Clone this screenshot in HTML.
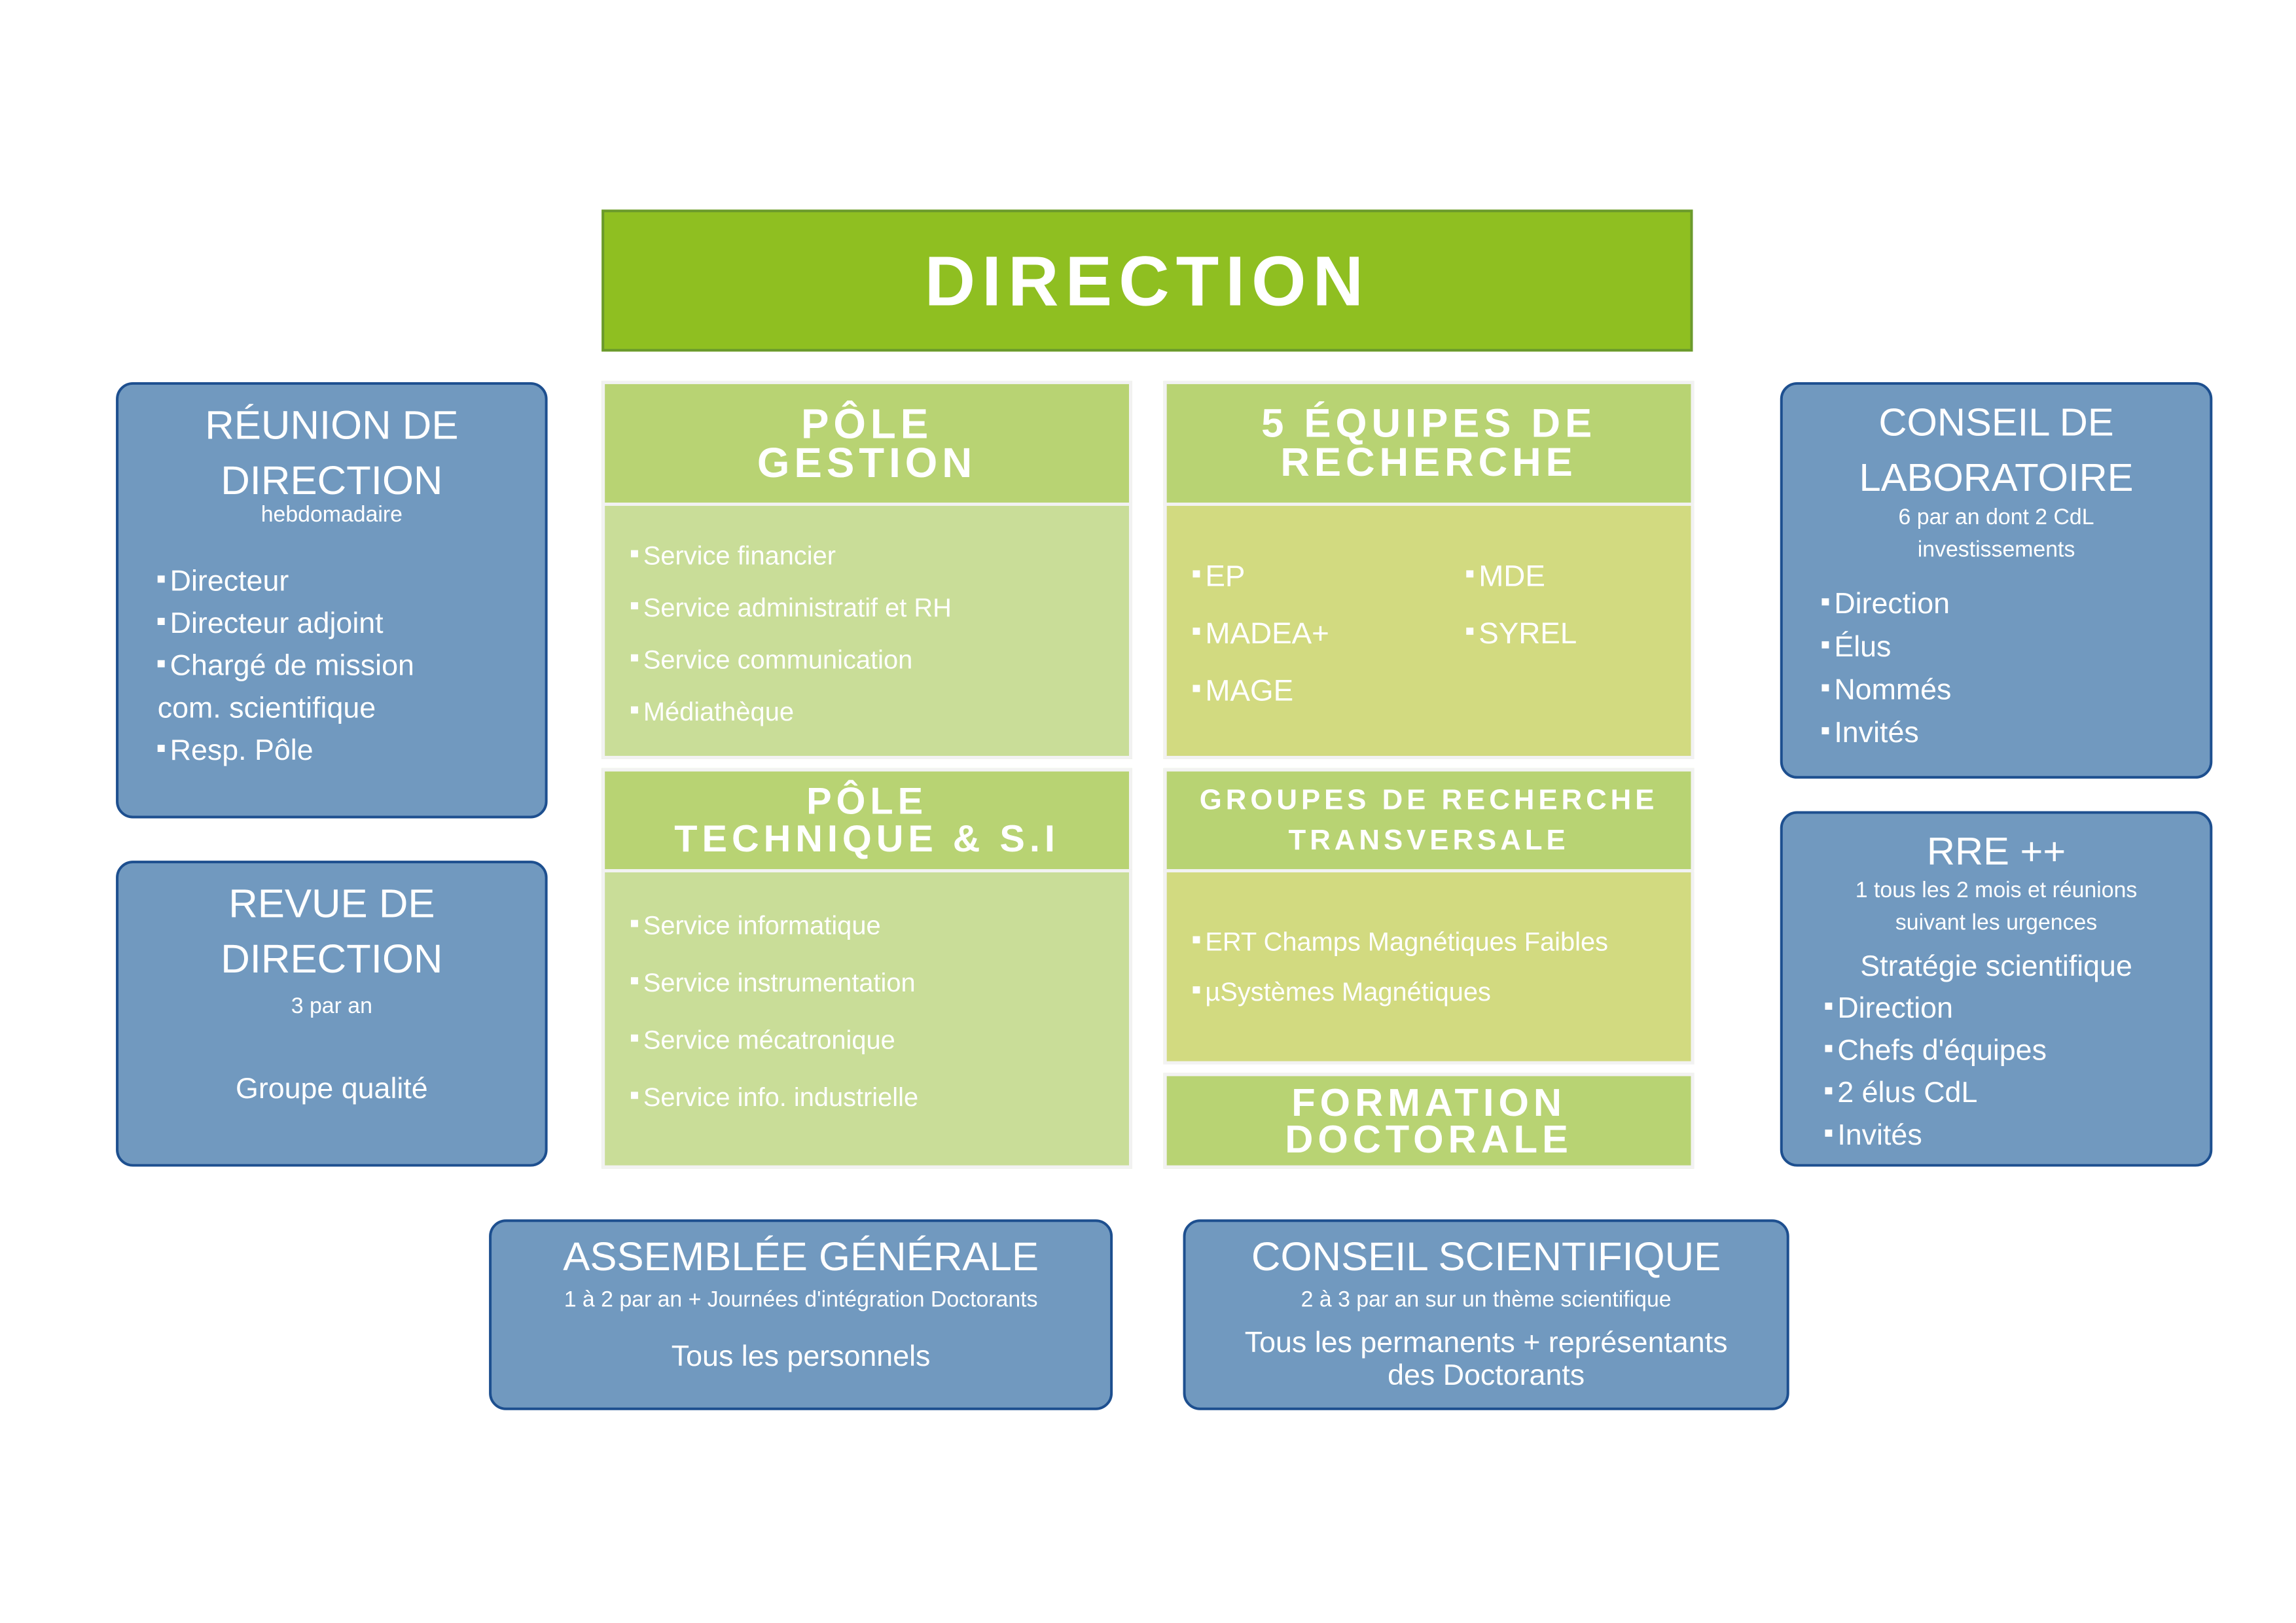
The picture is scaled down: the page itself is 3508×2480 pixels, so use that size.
<!DOCTYPE html>
<html><head><meta charset="utf-8"><style>
*{margin:0;padding:0;box-sizing:border-box}
body{width:3508px;height:2480px;background:#fff;position:relative;overflow:hidden;font-family:"Liberation Sans",sans-serif;color:#fff}
#w{position:absolute;left:0;top:0;width:3508px;height:2480px;transform:scale(0.9948);transform-origin:0 0}
.a{position:absolute}
.blue{background:#7199bf;border:4px solid #1d4f8f;border-radius:26px}
.hd{background:#b8d373;border:5px solid #f2f2f2;display:flex;flex-direction:column;justify-content:center;align-items:center;text-align:center;font-weight:bold;letter-spacing:7px}
.bg{background:#c9dd98;border:5px solid #f2f2f2}
.by{background:#d2da80;border:5px solid #f2f2f2}
.c{text-align:center}
.li{position:absolute;white-space:nowrap}
.li:before{content:"";display:inline-block;width:11px;height:11px;background:#fff;margin-right:8px;vertical-align:middle;position:relative;top:-6px}
</style></head><body><div id="w">

<div class="a" style="left:924px;top:322px;width:1676px;height:218px;background:#8fbf21;border:4px solid #6b9a2c;display:flex;align-items:center;justify-content:center;font-weight:bold;font-size:108px;letter-spacing:10px">DIRECTION</div>

<div class="a blue" style="left:178px;top:587px;width:663px;height:670px">
 <div class="a c" style="left:0;width:100%;top:20px;font-size:62px;line-height:85px">RÉUNION DE<br>DIRECTION</div>
 <div class="a c" style="left:0;width:100%;top:180px;font-size:34px">hebdomadaire</div>
 <div class="li" style="left:60px;top:275px;font-size:45px">Directeur</div>
 <div class="li" style="left:60px;top:340px;font-size:45px">Directeur adjoint</div>
 <div class="li" style="left:60px;top:405px;font-size:45px">Chargé de mission</div>
 <div class="a" style="left:60px;top:470px;font-size:45px">com. scientifique</div>
 <div class="li" style="left:60px;top:535px;font-size:45px">Resp. Pôle</div>
</div>

<div class="a blue" style="left:178px;top:1322px;width:663px;height:470px">
 <div class="a c" style="left:0;width:100%;top:20px;font-size:62px;line-height:85px">REVUE DE<br>DIRECTION</div>
 <div class="a c" style="left:0;width:100%;top:200px;font-size:34px">3 par an</div>
 <div class="a c" style="left:0;width:100%;top:320px;font-size:45px">Groupe qualité</div>
</div>

<div class="a hd" style="left:924px;top:585px;width:815px;height:192px;font-size:64px;line-height:60px">PÔLE<br>GESTION</div>
<div class="a bg" style="left:924px;top:772px;width:815px;height:394px">
 <div class="li" style="left:40px;top:55px;font-size:40px">Service financier</div>
 <div class="li" style="left:40px;top:135px;font-size:40px">Service administratif et RH</div>
 <div class="li" style="left:40px;top:215px;font-size:40px">Service communication</div>
 <div class="li" style="left:40px;top:295px;font-size:40px">Médiathèque</div>
</div>

<div class="a hd" style="left:924px;top:1180px;width:815px;height:160px;font-size:58px;line-height:58px">PÔLE<br>TECHNIQUE &amp; S.I</div>
<div class="a bg" style="left:924px;top:1335px;width:815px;height:460px">
 <div class="li" style="left:40px;top:60px;font-size:40px">Service informatique</div>
 <div class="li" style="left:40px;top:148px;font-size:40px">Service instrumentation</div>
 <div class="li" style="left:40px;top:236px;font-size:40px">Service mécatronique</div>
 <div class="li" style="left:40px;top:324px;font-size:40px">Service info. industrielle</div>
</div>

<div class="a hd" style="left:1787px;top:585px;width:815px;height:192px;font-size:62px;line-height:60px">5 ÉQUIPES DE<br>RECHERCHE</div>
<div class="a by" style="left:1787px;top:772px;width:815px;height:394px">
 <div class="li" style="left:40px;top:80px;font-size:46px">EP</div>
 <div class="li" style="left:40px;top:168px;font-size:46px">MADEA+</div>
 <div class="li" style="left:40px;top:256px;font-size:46px">MAGE</div>
 <div class="li" style="left:460px;top:80px;font-size:46px">MDE</div>
 <div class="li" style="left:460px;top:168px;font-size:46px">SYREL</div>
</div>

<div class="a hd" style="left:1787px;top:1180px;width:815px;height:160px;font-size:44px;line-height:62px;letter-spacing:6px">GROUPES DE RECHERCHE<br>TRANSVERSALE</div>
<div class="a by" style="left:1787px;top:1335px;width:815px;height:300px">
 <div class="li" style="left:40px;top:85px;font-size:40px">ERT Champs Magnétiques Faibles</div>
 <div class="li" style="left:40px;top:162px;font-size:40px">µSystèmes Magnétiques</div>
</div>

<div class="a hd" style="left:1787px;top:1648px;width:815px;height:147px;font-size:60px;line-height:56px">FORMATION<br>DOCTORALE</div>

<div class="a blue" style="left:2734px;top:587px;width:664px;height:609px">
 <div class="a c" style="left:0;width:100%;top:15px;font-size:60px;line-height:85px">CONSEIL DE<br>LABORATOIRE</div>
 <div class="a c" style="left:0;width:100%;top:178px;font-size:34px;line-height:50px">6 par an dont 2 CdL<br>investissements</div>
 <div class="li" style="left:60px;top:310px;font-size:45px">Direction</div>
 <div class="li" style="left:60px;top:376px;font-size:45px">Élus</div>
 <div class="li" style="left:60px;top:442px;font-size:45px">Nommés</div>
 <div class="li" style="left:60px;top:508px;font-size:45px">Invités</div>
</div>

<div class="a blue" style="left:2734px;top:1246px;width:664px;height:546px">
 <div class="a c" style="left:0;width:100%;top:15px;font-size:60px;line-height:85px">RRE ++</div>
 <div class="a c" style="left:0;width:100%;top:92px;font-size:34px;line-height:50px">1 tous les 2 mois et réunions<br>suivant les urgences</div>
 <div class="a c" style="left:0;width:100%;top:208px;font-size:45px">Stratégie scientifique</div>
 <div class="li" style="left:65px;top:272px;font-size:45px">Direction</div>
 <div class="li" style="left:65px;top:337px;font-size:45px">Chefs d'équipes</div>
 <div class="li" style="left:65px;top:402px;font-size:45px">2 élus CdL</div>
 <div class="li" style="left:65px;top:467px;font-size:45px">Invités</div>
</div>

<div class="a blue" style="left:751px;top:1873px;width:958px;height:293px">
 <div class="a c" style="left:0;width:100%;top:18px;font-size:62px">ASSEMBLÉE GÉNÉRALE</div>
 <div class="a c" style="left:0;width:100%;top:100px;font-size:34px">1 à 2 par an + Journées d'intégration Doctorants</div>
 <div class="a c" style="left:0;width:100%;top:180px;font-size:45px">Tous les personnels</div>
</div>

<div class="a blue" style="left:1817px;top:1873px;width:931px;height:293px">
 <div class="a c" style="left:0;width:100%;top:18px;font-size:62px">CONSEIL SCIENTIFIQUE</div>
 <div class="a c" style="left:0;width:100%;top:100px;font-size:34px">2 à 3 par an sur un thème scientifique</div>
 <div class="a c" style="left:0;width:100%;top:160px;font-size:45px;line-height:50px">Tous les permanents + représentants<br>des Doctorants</div>
</div>

</div></body></html>
